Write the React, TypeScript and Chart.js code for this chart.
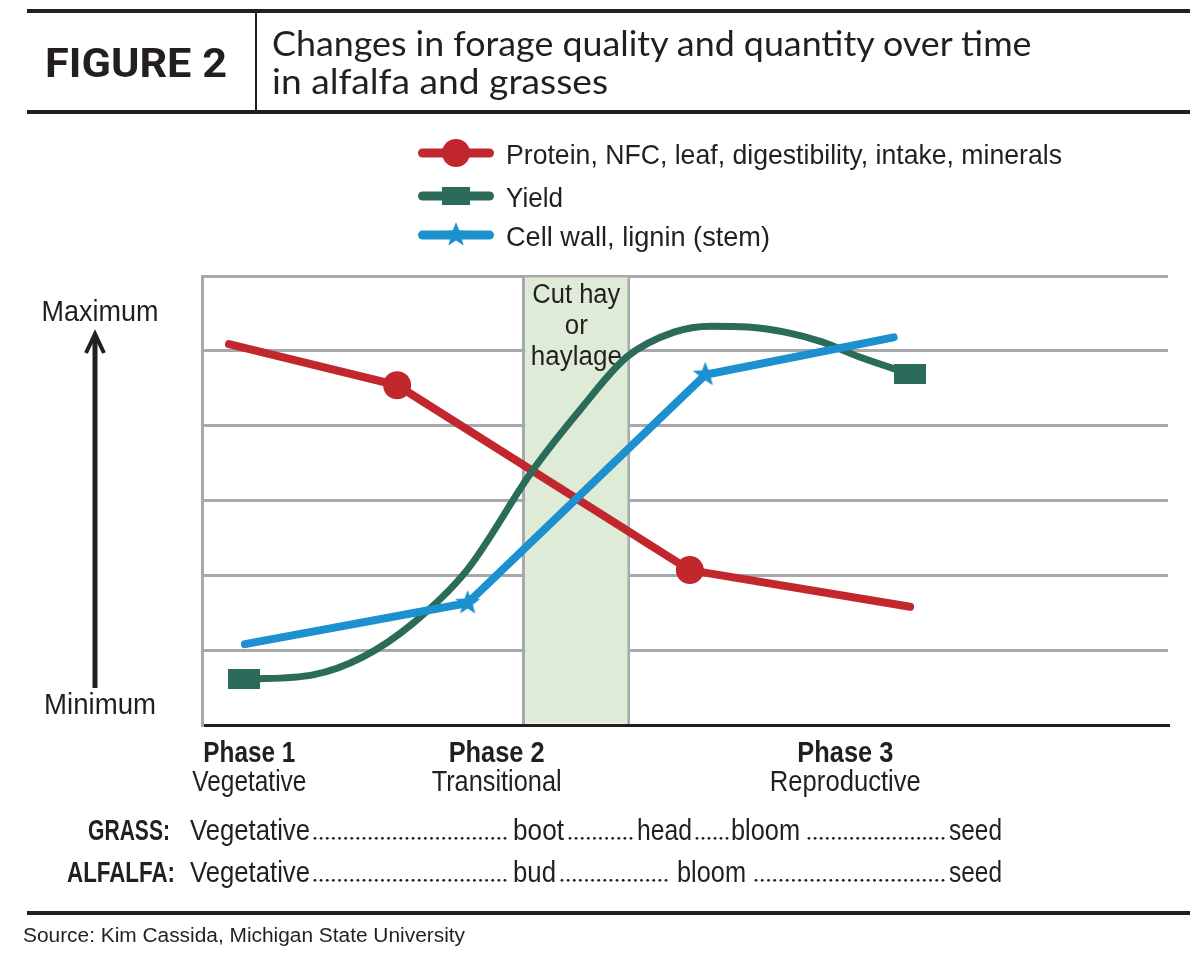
import React, { useEffect, useRef } from 'react';
import { Chart, registerables } from 'chart.js';

Chart.register(...registerables);

// ---------- colours ----------
const INK = '#231F20';
const RED = '#C1272D';
const GREEN = '#2A6B59';
const BLUE = '#1D91D0';
const GRID = '#A7A9AC';
const BAND = '#DDEBD7';

// ---------- data (x: relative time 0..100 across the plot, y: relative level 0=min .. 6=max) ----------
const X_MIN = 0;
const X_MAX = 100;
const Y_MIN = 0;
const Y_MAX = 6;
const CUT_START = 33.3;
const CUT_END = 44.2;

const seriesLabels = [
  'Protein, NFC, leaf, digestibility, intake, minerals',
  'Yield',
  'Cell wall, lignin (stem)',
];

const qualityX = [2.8, 20.2, 50.5, 73.3];
const qualityY = [5.09, 4.54, 2.07, 1.58];
const qualityMarkers = [false, true, true, false];

const yieldX = [4.35, 11.49, 16.67, 21.84, 27.43, 34.27, 39.13, 44.0, 48.86, 52.69, 56.52, 60.35, 64.18, 68.01, 73.29];
const yieldY = [0.61, 0.67, 0.91, 1.36, 2.07, 3.41, 4.21, 4.92, 5.25, 5.33, 5.32, 5.25, 5.12, 4.92, 4.69];
const yieldMarkers = [true, false, false, false, false, false, false, false, false, false, false, false, false, false, true];

const cellX = [4.45, 27.5, 52.1, 71.6];
const cellY = [1.08, 1.63, 4.68, 5.18];
const cellMarkers = [false, true, true, false];

const phaseNames = ['Phase 1', 'Phase 2', 'Phase 3'];
const phaseStages = ['Vegetative', 'Transitional', 'Reproductive'];
const phaseX = [4.9, 30.5, 66.6];

const cutLabel = ['Cut hay', 'or', 'haylage'];
const axisLabels = ['Maximum', 'Minimum'];

const grassStages = ['Vegetative', 'boot', 'head', 'bloom', 'seed'];
const alfalfaStages = ['Vegetative', 'bud', 'bloom', 'seed'];

// ---------- layout (pixels) ----------
const SANS = "'Liberation Sans', Arial, sans-serif";
const PLOT = { left: 202, right: 1168, top: 276, bottom: 725 };
const grassSpans = [[190, 310], [513, 564], [637, 692], [731, 800], [949, 1002]];
const grassDots = [[315, 505], [570, 631], [697, 727], [809, 943]];
const alfalfaSpans = [[190, 310], [513, 556], [677, 746], [949, 1002]];
const alfalfaDots = [[315, 505], [562, 666], [756, 943]];
const phaseNameW = [92, 96, 96];
const phaseStageW = [114, 130, 151];
const legendW = [556, 57, 264];

function fitText(
  ctx: CanvasRenderingContext2D,
  text: string,
  x: number,
  y: number,
  width: number,
  font: string,
  align: 'left' | 'center' | 'right' = 'left',
) {
  ctx.save();
  ctx.font = font;
  const w = ctx.measureText(text).width;
  const s = width / w;
  const left = align === 'left' ? x : align === 'center' ? x - width / 2 : x - width;
  ctx.translate(left, y);
  ctx.scale(s, 1);
  ctx.textAlign = 'left';
  ctx.textBaseline = 'alphabetic';
  ctx.fillStyle = INK;
  ctx.fillText(text, 0, 0);
  ctx.restore();
}

function makeRect(w: number, h: number, color: string) {
  const c = document.createElement('canvas');
  c.width = w;
  c.height = h;
  const g = c.getContext('2d')!;
  g.fillStyle = color;
  g.fillRect(0, 0, w, h);
  return c;
}

function makeStar(R: number, r: number, color: string) {
  const size = Math.ceil(R * 2 + 2);
  const c = document.createElement('canvas');
  c.width = size;
  c.height = size;
  const g = c.getContext('2d')!;
  g.translate(size / 2, size / 2);
  g.beginPath();
  for (let i = 0; i < 10; i++) {
    const rad = i % 2 === 0 ? R : r;
    const a = -Math.PI / 2 + (i * Math.PI) / 5;
    const px = Math.cos(a) * rad;
    const py = Math.sin(a) * rad;
    if (i === 0) g.moveTo(px, py);
    else g.lineTo(px, py);
  }
  g.closePath();
  g.fillStyle = color;
  g.fill();
  return c;
}

let measureCtx: CanvasRenderingContext2D | null = null;
function measure(font: string, text: string) {
  if (!measureCtx) measureCtx = document.createElement('canvas').getContext('2d');
  measureCtx!.font = font;
  return measureCtx!.measureText(text);
}

type FitProps = {
  text: string;
  family: string;
  size: number;
  weight?: number;
  x: number;
  baseline: number;
  width: number;
  color?: string;
};

function FitText({ text, family, size, weight = 400, x, baseline, width, color = INK }: FitProps) {
  const font = `${weight} ${size}px ${family}`;
  const m = measure(font, text);
  const asc = (m as any).fontBoundingBoxAscent ?? size * 0.9;
  const desc = (m as any).fontBoundingBoxDescent ?? size * 0.25;
  const s = width / m.width;
  return (
    <div
      style={{
        position: 'absolute',
        left: x,
        top: baseline - asc,
        fontFamily: family,
        fontSize: size,
        fontWeight: weight,
        lineHeight: `${asc + desc}px`,
        whiteSpace: 'nowrap',
        transform: `scaleX(${s})`,
        transformOrigin: '0 0',
        color,
      }}
    >
      {text}
    </div>
  );
}

const decorPlugin = {
  id: 'decor',
  beforeDatasetsDraw(chart: any) {
    const { ctx, chartArea } = chart;
    const xs = chart.scales.x;
    const x0 = xs.getPixelForValue(CUT_START) + 1.5;
    const x1 = xs.getPixelForValue(CUT_END) - 1.5;
    ctx.save();
    ctx.fillStyle = BAND;
    ctx.fillRect(x0, chartArea.top + 1.5, x1 - x0, chartArea.bottom - chartArea.top - 3);
    ctx.restore();
    const cx = (xs.getPixelForValue(CUT_START) + xs.getPixelForValue(CUT_END)) / 2;
    const f = `400 27px ${SANS}`;
    fitText(ctx, cutLabel[0], cx, 303, 88, f, 'center');
    fitText(ctx, cutLabel[1], cx, 334, 23, f, 'center');
    fitText(ctx, cutLabel[2], cx, 365, 91, f, 'center');
  },
  afterDraw(chart: any, _args: any, opts: any) {
    const { ctx } = chart;
    const xs = chart.scales.x;
    const f28 = `400 29px ${SANS}`;
    const b28 = `700 29px ${SANS}`;

    // legend
    const rowsY = [153, 196, 235];
    const colors = [RED, GREEN, BLUE];
    rowsY.forEach((y, i) => {
      ctx.save();
      ctx.strokeStyle = colors[i];
      ctx.lineWidth = 9;
      ctx.lineCap = 'round';
      ctx.beginPath();
      ctx.moveTo(422.5, y);
      ctx.lineTo(489.5, y);
      ctx.stroke();
      if (i === 0) {
        ctx.fillStyle = RED;
        ctx.beginPath();
        ctx.arc(456, y, 14, 0, Math.PI * 2);
        ctx.fill();
      } else {
        const img = i === 1 ? opts.legendRect : opts.star;
        ctx.drawImage(img, 456 - img.width / 2, y - img.height / 2);
      }
      ctx.restore();
      fitText(ctx, seriesLabels[i], 506, y + 11, legendW[i], `400 28px ${SANS}`);
    });

    // y-axis labels + arrow
    fitText(ctx, axisLabels[0], 100, 321, 117, f28, 'center');
    fitText(ctx, axisLabels[1], 100, 714, 112, f28, 'center');
    ctx.save();
    ctx.strokeStyle = INK;
    ctx.lineWidth = 5;
    ctx.beginPath();
    ctx.moveTo(95, 688);
    ctx.lineTo(95, 336);
    ctx.stroke();
    ctx.lineWidth = 4;
    ctx.lineJoin = 'miter';
    ctx.beginPath();
    ctx.moveTo(86, 353);
    ctx.lineTo(95, 334);
    ctx.lineTo(104, 353);
    ctx.stroke();
    ctx.restore();

    // phases
    phaseNames.forEach((name, i) => {
      const px = xs.getPixelForValue(phaseX[i]);
      fitText(ctx, name, px, 762, phaseNameW[i], b28, 'center');
      fitText(ctx, phaseStages[i], px, 791, phaseStageW[i], f28, 'center');
    });

    // grass / alfalfa rows
    const drawRow = (
      label: string,
      labelRight: number,
      labelW: number,
      stages: string[],
      spans: number[][],
      dots: number[][],
      base: number,
    ) => {
      fitText(ctx, label, labelRight, base, labelW, b28, 'right');
      stages.forEach((s, i) => fitText(ctx, s, spans[i][0], base, spans[i][1] - spans[i][0], f28));
      ctx.save();
      ctx.fillStyle = INK;
      dots.forEach(([a, b]) => {
        const n = Math.max(1, Math.round((b - a) / 6.2));
        const step = (b - a) / n;
        for (let k = 0; k <= n; k++) {
          ctx.beginPath();
          ctx.arc(a + k * step, base - 1.7, 1.4, 0, Math.PI * 2);
          ctx.fill();
        }
      });
      ctx.restore();
    };
    drawRow('GRASS:', 170, 82, grassStages, grassSpans, grassDots, 840);
    drawRow('ALFALFA:', 175, 108, alfalfaStages, alfalfaSpans, alfalfaDots, 882);
  },
};

function ChartCanvas() {
  const ref = useRef<HTMLCanvasElement>(null);
  useEffect(() => {
    if (!ref.current) return;
    const rect = makeRect(32, 20, GREEN);
    const legendRect = makeRect(28, 18, GREEN);
    const star = makeStar(13, 5.5, BLUE);
    const chart = new Chart(ref.current, {
      type: 'line',
      data: {
        datasets: [
          {
            label: seriesLabels[0],
            data: qualityX.map((x, i) => ({ x, y: qualityY[i] })),
            borderColor: RED,
            backgroundColor: RED,
            borderWidth: 8,
            borderCapStyle: 'round',
            borderJoinStyle: 'round',
            tension: 0,
            pointStyle: 'circle',
            pointRadius: qualityMarkers.map((m) => (m ? 14 : 0)),
            pointBackgroundColor: RED,
            pointBorderWidth: 0,
            fill: false,
            order: 3,
          } as any,
          {
            label: seriesLabels[1],
            data: yieldX.map((x, i) => ({ x, y: yieldY[i] })),
            borderColor: GREEN,
            backgroundColor: GREEN,
            borderWidth: 7,
            borderCapStyle: 'round',
            borderJoinStyle: 'round',
            cubicInterpolationMode: 'monotone',
            pointStyle: rect,
            pointRadius: yieldMarkers.map((m) => (m ? 10 : 0)),
            pointBorderWidth: 0,
            fill: false,
            order: 2,
          } as any,
          {
            label: seriesLabels[2],
            data: cellX.map((x, i) => ({ x, y: cellY[i] })),
            borderColor: BLUE,
            backgroundColor: BLUE,
            borderWidth: 8,
            borderCapStyle: 'round',
            borderJoinStyle: 'round',
            tension: 0,
            pointStyle: star,
            pointRadius: cellMarkers.map((m) => (m ? 10 : 0)),
            pointBorderWidth: 0,
            fill: false,
            order: 1,
          } as any,
        ],
      },
      options: {
        animation: false,
        responsive: false,
        devicePixelRatio: 1,
        events: [],
        layout: {
          padding: { left: PLOT.left, right: 1200 - PLOT.right, top: PLOT.top, bottom: 960 - PLOT.bottom },
        },
        plugins: {
          legend: { display: false },
          tooltip: { enabled: false },
          decor: { legendRect, star },
        } as any,
        scales: {
          x: {
            type: 'linear',
            min: X_MIN,
            max: X_MAX,
            ticks: { display: false },
            afterBuildTicks: (s: any) => {
              s.ticks = [X_MIN, CUT_START, CUT_END].map((v) => ({ value: v }));
            },
            afterFit: (s: any) => {
              s.height = 0;
            },
            grid: {
              drawTicks: false,
              lineWidth: 3,
              color: (c: any) => (c.tick && c.tick.value === X_MIN ? 'rgba(0,0,0,0)' : GRID),
            },
            border: { display: true, color: INK, width: 3 },
          },
          y: {
            type: 'linear',
            min: Y_MIN,
            max: Y_MAX,
            ticks: { display: false, stepSize: 1 },
            afterFit: (s: any) => {
              s.width = 0;
            },
            grid: {
              drawTicks: false,
              lineWidth: 3,
              color: (c: any) => (c.tick && c.tick.value === Y_MIN ? 'rgba(0,0,0,0)' : GRID),
            },
            border: { display: true, color: GRID, width: 3 },
          },
        } as any,
      },
      plugins: [decorPlugin],
    });
    return () => chart.destroy();
  }, []);
  return (
    <canvas
      ref={ref}
      width={1200}
      height={960}
      style={{ position: 'absolute', left: 0, top: 0, width: 1200, height: 960, display: 'block' }}
    />
  );
}

export default function App() {
  return (
    <div
      style={{
        position: 'fixed',
        left: 0,
        top: 0,
        width: 1200,
        height: 960,
        background: '#ffffff',
        overflow: 'hidden',
      }}
    >
      <ChartCanvas />
      {/* header */}
      <div style={{ position: 'absolute', left: 27, top: 9, width: 1163, height: 4, background: INK }} />
      <div style={{ position: 'absolute', left: 27, top: 110, width: 1163, height: 4, background: INK }} />
      <div style={{ position: 'absolute', left: 255, top: 12, width: 2, height: 99, background: INK }} />
      <FitText text="FIGURE 2" family="Roboto, sans-serif" size={40} weight={700} x={45} baseline={77} width={182} />
      <FitText
        text="Changes in forage quality and quantity over time"
        family="Lato, sans-serif"
        size={34}
        x={272}
        baseline={56}
        width={762}
      />
      <FitText text="in alfalfa and grasses" family="Lato, sans-serif" size={34} x={272} baseline={94} width={336} />
      {/* footer */}
      <div style={{ position: 'absolute', left: 27, top: 911, width: 1163, height: 4, background: INK }} />
      <FitText
        text="Source: Kim Cassida, Michigan State University"
        family={SANS}
        size={20}
        x={23}
        baseline={942}
        width={442}
      />
    </div>
  );
}
